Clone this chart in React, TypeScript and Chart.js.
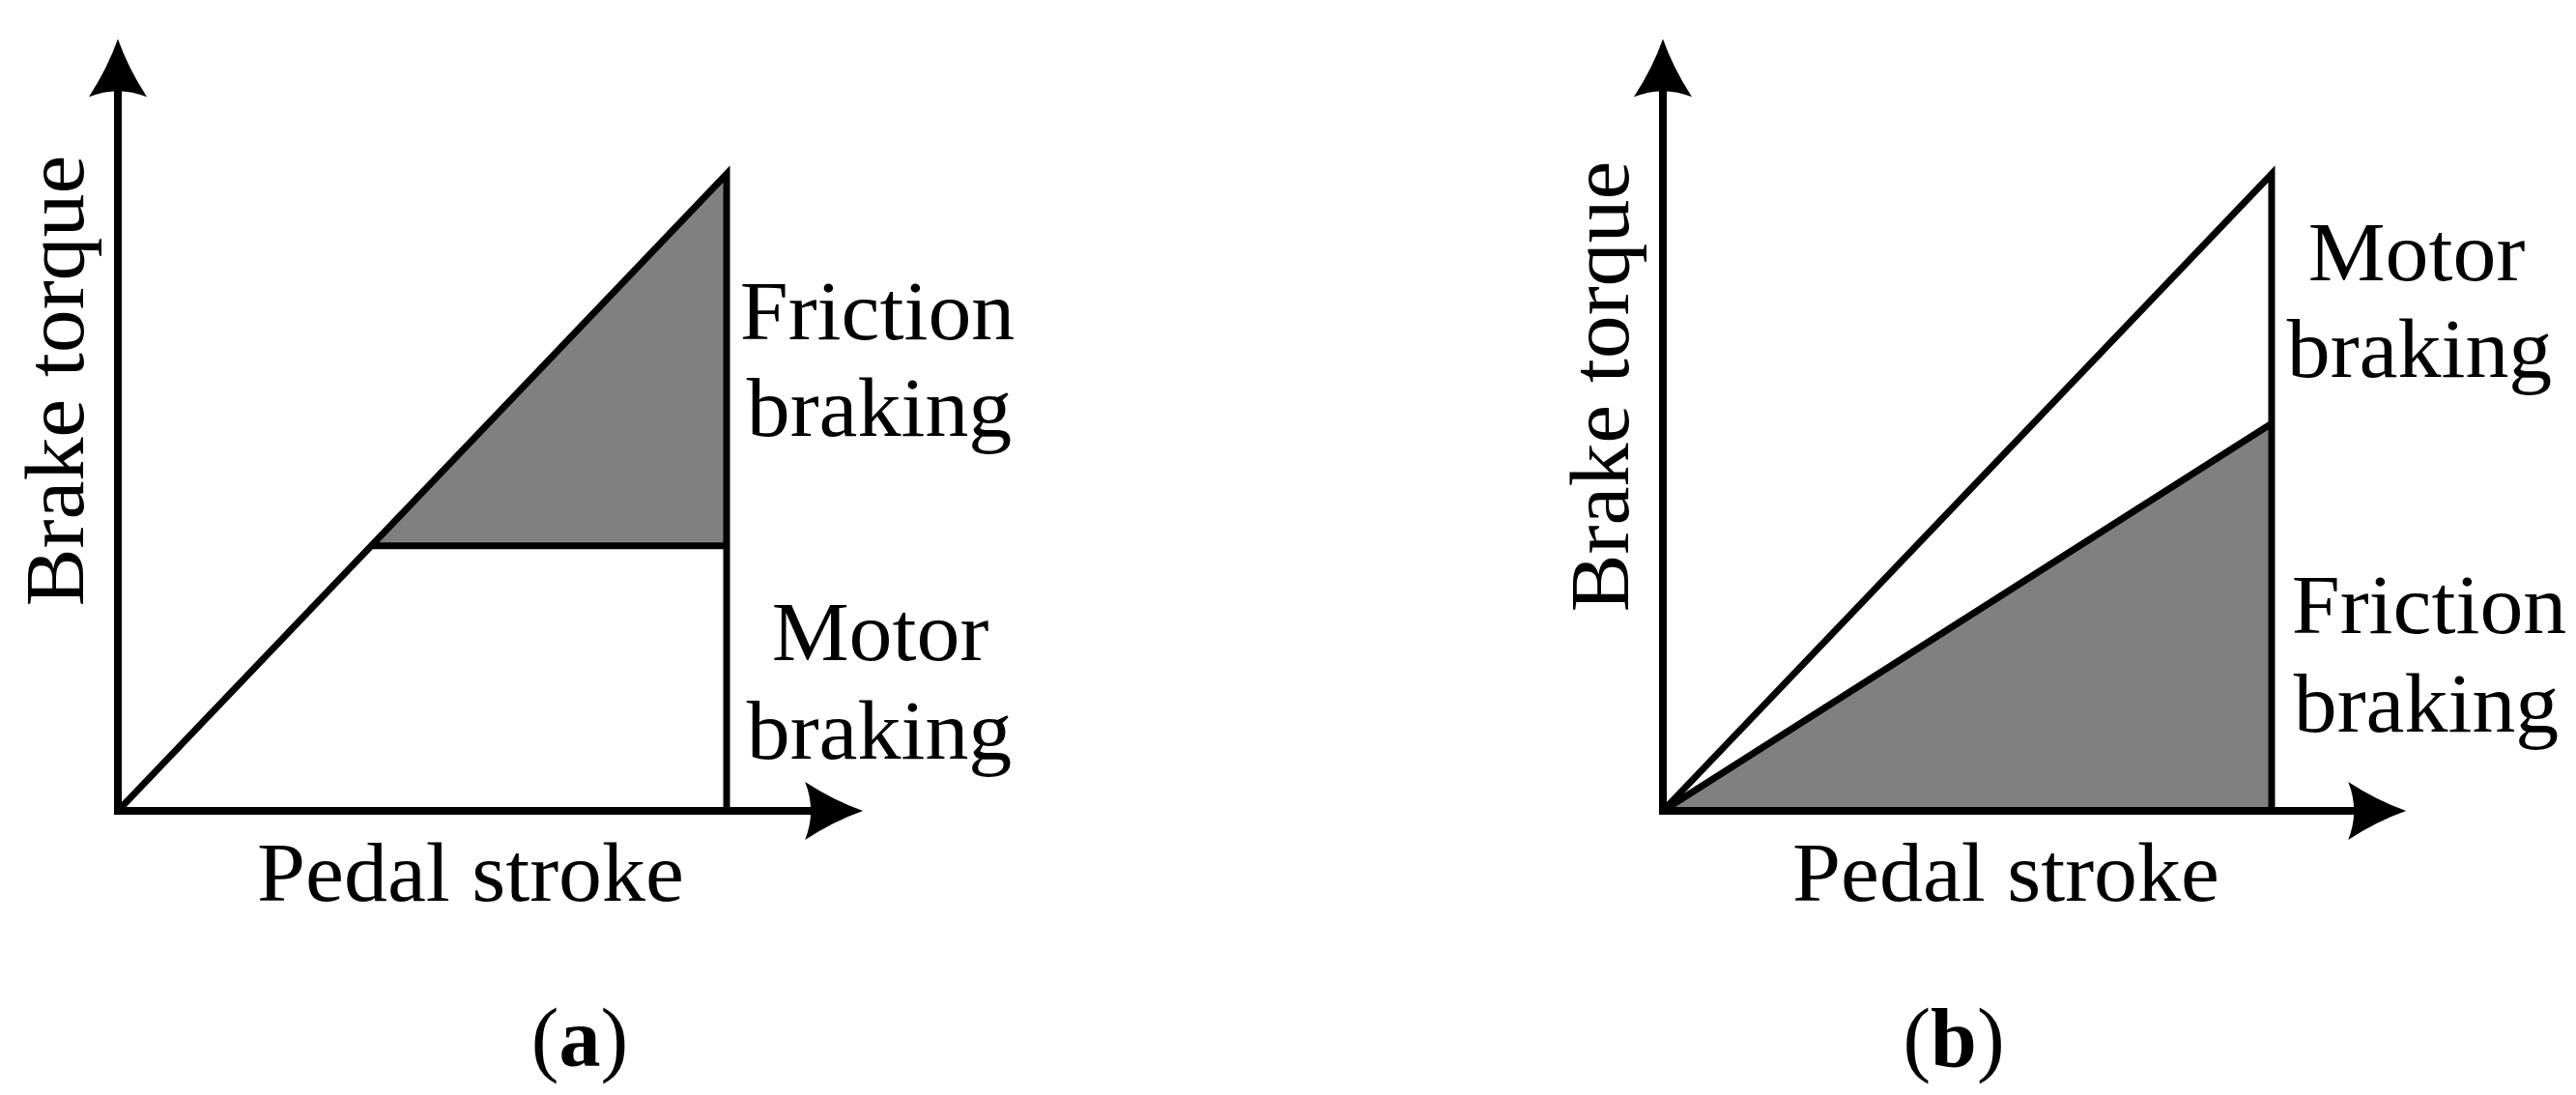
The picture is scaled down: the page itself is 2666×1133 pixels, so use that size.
import React, { useEffect, useRef } from "react";
import { Chart, registerables } from "chart.js";

Chart.register(...registerables);

// ---------------- data (normalised units) ----------------
const pedalStroke = [0, 1]; // start / full pedal stroke
const totalTorque = [0, 1]; // total demanded brake torque at start / full stroke
const motorCapA = [0.416, 0.416]; // (a) motor torque limit (constant)
const frictionTorqueB = [0, 0.608]; // (b) friction torque at start / full stroke
const axisTipX = [1.224, 1.221]; // x-arrow tip for (a), (b)
const axisTipY = [1.212, 1.212]; // y-arrow tip for (a), (b)

const xTitle = "Pedal stroke";
const yTitle = "Brake torque";
const regionLabelsA = ["Friction", "braking", "Motor", "braking"];
const regionLabelsB = ["Motor", "braking", "Friction", "braking"];
const captions = ["a", "b"];

// ---------------- styles / layout ----------------
const PAGE_W = 2666;
const PAGE_H = 1133;
const HALF_W = 1333;
const FONT = '"Liberation Serif", "Times New Roman", serif';
const FONT_SIZE = 86;
const TEXT_STRETCH = 1.045;
const FILL = "#808080";
const LINE_W = 7;
const AXIS_W = 8;

type TextPos = { dx: number; dy: number; ref: "origin" | "end" };

type Panel = {
  left: number;
  padLeft: number;
  padRight: number;
  datasets: any[];
  tipX: number;
  tipY: number;
  yTitleDy: number;
  xTitleDx: number;
  labels: string[];
  labelPos: TextPos[];
  caption: string;
  captionDx: number;
};

const lineStyle = {
  borderColor: "#000",
  borderWidth: LINE_W,
  borderJoinStyle: "miter",
  borderCapStyle: "butt",
  pointRadius: 0,
  tension: 0,
  fill: false,
  showLine: true,
};

const panelA: Panel = {
  left: 0,
  padLeft: 122,
  padRight: HALF_W - 122 - 1.25 * 630,
  datasets: [
    {
      data: [
        { x: motorCapA[0], y: motorCapA[0] },
        { x: pedalStroke[1], y: totalTorque[1] },
      ],
      fill: { value: motorCapA[1] },
      backgroundColor: FILL,
      borderWidth: 0,
      pointRadius: 0,
      tension: 0,
      order: 3,
    },
    {
      ...lineStyle,
      data: [
        { x: pedalStroke[0], y: totalTorque[0] },
        { x: pedalStroke[1], y: totalTorque[1] },
        { x: pedalStroke[1], y: 0 },
      ],
      order: 1,
    },
    {
      ...lineStyle,
      data: [
        { x: motorCapA[0], y: motorCapA[0] },
        { x: pedalStroke[1], y: motorCapA[1] },
      ],
      order: 1,
    },
  ],
  tipX: axisTipX[0],
  tipY: axisTipY[0],
  yTitleDy: -445,
  xTitleDx: 365,
  labels: regionLabelsA,
  labelPos: [
    { dx: 156, dy: -488, ref: "end" },
    { dx: 158, dy: -388, ref: "end" },
    { dx: 159, dy: -156, ref: "end" },
    { dx: 158, dy: -54, ref: "end" },
  ],
  caption: captions[0],
  captionDx: 478,
};

const panelB: Panel = {
  left: HALF_W,
  padLeft: 1721 - HALF_W,
  padRight: HALF_W - (1721 - HALF_W) - 1.25 * 630,
  datasets: [
    {
      data: [
        { x: pedalStroke[0], y: frictionTorqueB[0] },
        { x: pedalStroke[1], y: frictionTorqueB[1] },
      ],
      fill: "origin",
      backgroundColor: FILL,
      borderWidth: 0,
      pointRadius: 0,
      tension: 0,
      order: 3,
    },
    {
      ...lineStyle,
      data: [
        { x: pedalStroke[0], y: totalTorque[0] },
        { x: pedalStroke[1], y: totalTorque[1] },
        { x: pedalStroke[1], y: 0 },
      ],
      order: 1,
    },
    {
      ...lineStyle,
      data: [
        { x: pedalStroke[0], y: frictionTorqueB[0] },
        { x: pedalStroke[1], y: frictionTorqueB[1] },
      ],
      order: 1,
    },
  ],
  tipX: axisTipX[1],
  tipY: axisTipY[1],
  yTitleDy: -439,
  xTitleDx: 355,
  labels: regionLabelsB,
  labelPos: [
    { dx: 150, dy: -549, ref: "end" },
    { dx: 153, dy: -449, ref: "end" },
    { dx: 163, dy: -184, ref: "end" },
    { dx: 160, dy: -82, ref: "end" },
  ],
  caption: captions[1],
  captionDx: 301,
};

function drawArrow(ctx: CanvasRenderingContext2D, tx: number, ty: number, dir: "up" | "right") {
  const L = 60;
  const W = 30;
  const D = 12;
  ctx.save();
  ctx.translate(tx, ty);
  if (dir === "right") ctx.rotate(Math.PI / 2);
  ctx.beginPath();
  ctx.moveTo(0, 0);
  ctx.quadraticCurveTo(-W * 0.35, L * 0.5, -W, L);
  ctx.quadraticCurveTo(0, L - D, W, L);
  ctx.quadraticCurveTo(W * 0.35, L * 0.5, 0, 0);
  ctx.closePath();
  ctx.fillStyle = "#000";
  ctx.fill();
  ctx.restore();
}

// draw text centred at (x, y) with a slight horizontal stretch (Palatino-like width)
function stretchedText(ctx: CanvasRenderingContext2D, t: string, x: number, y: number, rot = 0) {
  ctx.save();
  ctx.translate(x, y);
  if (rot) ctx.rotate(rot);
  ctx.scale(TEXT_STRETCH, 1);
  ctx.textAlign = "center";
  ctx.fillText(t, 0, 0);
  ctx.restore();
}

function makePlugin(p: Panel) {
  return {
    id: "diagramDecor",
    afterDatasetsDraw(chart: any) {
      const ctx: CanvasRenderingContext2D = chart.ctx;
      const xs = chart.scales.x;
      const ys = chart.scales.y;
      const ox = xs.getPixelForValue(0);
      const oy = ys.getPixelForValue(0);
      const x1 = xs.getPixelForValue(pedalStroke[1]);
      const txp = xs.getPixelForValue(p.tipX);
      const typ = ys.getPixelForValue(p.tipY);
      ctx.save();
      ctx.strokeStyle = "#000";
      ctx.lineWidth = AXIS_W;
      ctx.lineCap = "butt";
      ctx.beginPath();
      ctx.moveTo(ox, oy + AXIS_W / 2);
      ctx.lineTo(ox, typ + 50);
      ctx.stroke();
      ctx.beginPath();
      ctx.moveTo(ox - AXIS_W / 2, oy);
      ctx.lineTo(txp - 50, oy);
      ctx.stroke();
      drawArrow(ctx, ox, typ, "up");
      drawArrow(ctx, txp, oy, "right");

      ctx.fillStyle = "#000";
      ctx.font = `${FONT_SIZE}px ${FONT}`;
      ctx.textBaseline = "alphabetic";
      stretchedText(ctx, yTitle, ox - 36, oy + p.yTitleDy, -Math.PI / 2);
      stretchedText(ctx, xTitle, ox + p.xTitleDx, oy + 93);
      p.labels.forEach((t, i) => {
        const pos = p.labelPos[i];
        const bx = pos.ref === "end" ? x1 : ox;
        stretchedText(ctx, t, bx + pos.dx, oy + pos.dy);
      });
      const parts = [
        { t: "(", b: false },
        { t: p.caption, b: true },
        { t: ")", b: false },
      ];
      const widths = parts.map((pt) => {
        ctx.font = `${pt.b ? "bold " : ""}${FONT_SIZE}px ${FONT}`;
        return ctx.measureText(pt.t).width;
      });
      const total = widths.reduce((a, b) => a + b, 0);
      let cx = ox + p.captionDx - total / 2;
      ctx.textAlign = "left";
      parts.forEach((pt, i) => {
        ctx.font = `${pt.b ? "bold " : ""}${FONT_SIZE}px ${FONT}`;
        ctx.fillText(pt.t, cx, oy + 264);
        cx += widths[i];
      });
      ctx.restore();
    },
  };
}

function PanelChart({ panel }: { panel: Panel }) {
  const ref = useRef<HTMLCanvasElement | null>(null);
  useEffect(() => {
    if (!ref.current) return;
    const chart = new Chart(ref.current, {
      type: "line",
      data: { datasets: panel.datasets },
      options: {
        responsive: false,
        animation: false,
        devicePixelRatio: 1,
        layout: {
          padding: {
            left: panel.padLeft,
            right: panel.padRight,
            top: 839 - 1.25 * 659,
            bottom: PAGE_H - 839,
          },
        },
        plugins: {
          legend: { display: false },
          tooltip: { enabled: false },
          title: { display: false },
        },
        scales: {
          x: { type: "linear", min: 0, max: 1.25, display: false },
          y: { type: "linear", min: 0, max: 1.25, display: false },
        },
      } as any,
      plugins: [makePlugin(panel)],
    });
    return () => chart.destroy();
  }, [panel]);
  return (
    <canvas
      ref={ref}
      width={HALF_W}
      height={PAGE_H}
      style={{ position: "absolute", left: panel.left, top: 0, width: HALF_W, height: PAGE_H }}
    />
  );
}

export default function App() {
  useEffect(() => {
    document.body.style.margin = "0";
    document.body.style.background = "#fff";
  }, []);
  return (
    <div style={{ position: "absolute", left: 0, top: 0, width: PAGE_W, height: PAGE_H, background: "#fff", overflow: "hidden" }}>
      <PanelChart panel={panelA} />
      <PanelChart panel={panelB} />
    </div>
  );
}
